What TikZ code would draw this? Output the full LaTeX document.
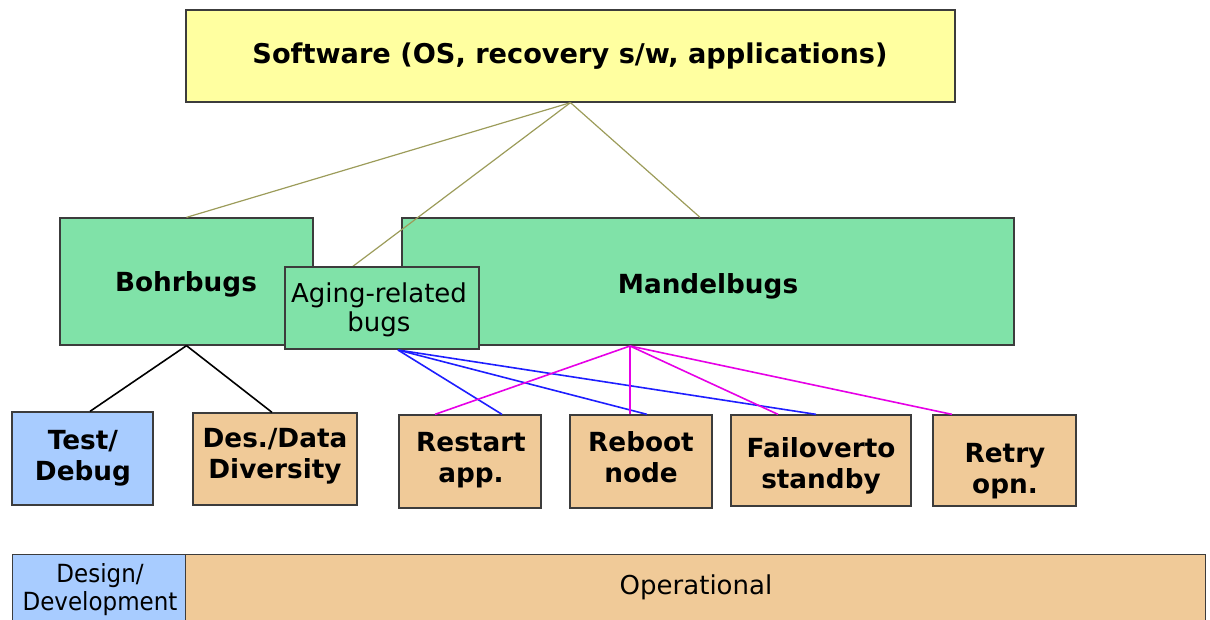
\documentclass[tikz,border=0pt]{standalone}
\usepackage{fontspec}
\setmainfont{DejaVu Sans}
\newfontfamily\boldf{DejaVu Sans Bold}
\newfontfamily\regf{DejaVu Sans}
\newfontfamily\narf[FakeStretch=0.92]{DejaVu Sans}
\definecolor{ylw}{RGB}{255,255,160}
\definecolor{grn}{RGB}{128,226,168}
\definecolor{blu}{RGB}{168,204,255}
\definecolor{tan}{RGB}{240,202,152}
\definecolor{olv}{RGB}{156,156,90}
\definecolor{bline}{RGB}{30,30,255}
\definecolor{mline}{RGB}{230,0,230}
\definecolor{edge}{RGB}{60,60,60}
\begin{document}
\begin{tikzpicture}[x=1pt,y=-1pt,
  box/.style={draw=edge,line width=1.3pt,inner sep=0pt,align=center},
  lbl/.style={font=\boldf\fontsize{26.3}{31}\selectfont,align=center,inner sep=0pt},
  olvl/.style={olv,line width=1.2pt},
  blkl/.style={black,line width=1.6pt},
  blul/.style={bline,line width=1.6pt},
  magl/.style={mline,line width=1.6pt}]
\useasboundingbox (0,0) rectangle (1210,619);
% top
\node[box,fill=ylw,minimum width=769pt,minimum height=92pt] (sw) at (570.5,56) {};
\node[lbl,font=\boldf\fontsize{27.2}{32}\selectfont] (swl) at (570,56) {Software (OS, recovery s/w, applications)};
% middle
\node[box,fill=grn,minimum width=253pt,minimum height=127pt] (bohr) at (186.5,281.5) {};
\node[lbl] (bohrl) at (186,284) {Bohrbugs};
\node[box,fill=grn,minimum width=612pt,minimum height=127pt] (mand) at (708,281.5) {};
\node[lbl] (mandl) at (708,286) {Mandelbugs};
\coordinate (agtop) at (352,267);
\draw[olvl] (sw.south) -- (bohr.north);
\draw[olvl] (sw.south) -- (mand.north west -| 700,218);
\draw[olvl] (sw.south) -- (agtop);
\node[box,fill=grn,minimum width=194pt,minimum height=82pt] (aging) at (382,308) {};
\node[lbl,font=\regf\fontsize{26}{29}\selectfont] (agingl) at (379,310) {Aging-related\\bugs};
% bottom row
\node[box,fill=blu,minimum width=141pt,minimum height=93pt] (test) at (82.5,458.5) {};
\node[lbl] (testl) at (83,458) {Test/\\Debug};
\node[box,fill=tan,minimum width=164pt,minimum height=92pt] (des) at (275,459) {};
\node[lbl] (desl) at (275,456) {Des./Data\\Diversity};
\node[box,fill=tan,minimum width=142pt,minimum height=93pt] (restart) at (470,461.5) {};
\node[lbl] (restartl) at (471,460) {Restart\\app.};
\node[box,fill=tan,minimum width=142pt,minimum height=93pt] (reboot) at (641,461.5) {};
\node[lbl] (rebootl) at (641,457.5) {Reboot\\node};
\node[box,fill=tan,minimum width=180pt,minimum height=91pt] (fail) at (821,460.5) {};
\node[lbl] (faill) at (821,465.5) {Failoverto\\standby};
\node[box,fill=tan,minimum width=143pt,minimum height=91pt] (retry) at (1004.5,460.5) {};
\node[lbl] (retryl) at (1005,471.5) {Retry\\opn.};
% black
\draw[blkl] (bohr.south) -- (test.north west -| 90,412);
\draw[blkl] (bohr.south) -- (des.north west -| 272,412);
% blue
\coordinate (agb) at (398,350);
\draw[blul] (agb) -- (restart.north west -| 502,414);
\draw[blul] (agb) -- (reboot.north west -| 647,414);
\draw[blul] (agb) -- (fail.north west -| 816,414);
% magenta
\coordinate (mb) at (630,346);
\draw[magl] (mb) -- (restart.north west -| 435,414);
\draw[magl] (mb) -- (reboot.north west -| 630,414);
\draw[magl] (mb) -- (fail.north west -| 778,414);
\draw[magl] (mb) -- (retry.north west -| 952,414);
% phases
\node[box,fill=blu,minimum width=173pt,minimum height=80pt,anchor=north west] (dd) at (12,554) {};
\node[font=\narf\fontsize{25}{28}\selectfont,align=center,inner sep=0pt] (ddl) at (100,590) {Design/\\Development};
\node[box,fill=tan,minimum width=1020pt,minimum height=80pt,anchor=north west] (op) at (185,554) {};
\node[font=\regf\fontsize{26}{30}\selectfont,inner sep=0pt] (opl) at (696,587) {Operational};
\end{tikzpicture}
\end{document}
